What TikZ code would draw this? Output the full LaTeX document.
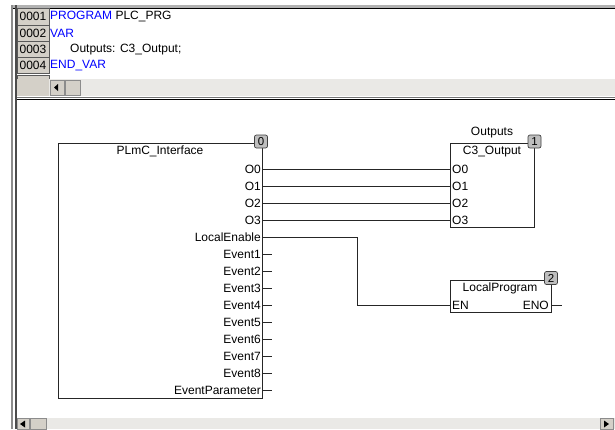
\documentclass[tikz,border=0pt]{standalone}
\usepackage{fontspec}
\setmainfont{Liberation Sans}
\definecolor{kw}{RGB}{0,0,255}
\definecolor{btn}{RGB}{212,208,200}
\definecolor{track}{RGB}{234,233,230}
\definecolor{badgefill}{RGB}{190,190,190}
\begin{document}
\begin{tikzpicture}[x=1pt,y=-1pt,font=\fontsize{12}{13}\selectfont,
  wire/.style={draw=black!85,line width=0.8pt},
  fbox/.style={draw=black!85,line width=0.8pt,fill=white,inner sep=0pt},
  portr/.style={inner sep=0pt,anchor=east},
  portl/.style={inner sep=0pt,anchor=west},
  badge/.style={draw=black!75,fill=badgefill,rounded corners=2pt,line width=0.7pt,
    minimum width=13pt,minimum height=13pt,inner sep=0pt,font=\fontsize{11.5}{12}\selectfont},
  lnum/.style={draw=black!65,fill=btn,line width=0.8pt,minimum width=32pt,minimum height=16.3pt,inner sep=0pt},
  code/.style={inner sep=0pt,anchor=west},
  sbtn/.style={draw=black!45,fill=btn,line width=0.5pt}]
\useasboundingbox (0,0) rectangle (615,429);
\fill[white] (0,0) rectangle (615,429);
% window frame
\fill[black!30] (11,5) rectangle (615,7.5);
\draw[black,line width=1pt] (11,8) -- (615,8);
\fill[black!45] (11,5) rectangle (12.5,429);
\fill[black!70] (15,5) rectangle (16.5,429);
% line numbers
\foreach \t [count=\i from 0] in {0001,0002,0003,0004} {
  \node[lnum] (ln\i) at (33,{16.8+16.3*\i}) {\t};
}
\node[lnum,minimum height=4pt,text height=0pt] (ln4) at (33,77) {};
\node[code] (c0) at (50,16.8) {\textcolor{kw}{PROGRAM} PLC\_PRG};
\node[code] (c1) at (50,33.1) {\textcolor{kw}{VAR}};
\node[code] (c2) at (70,49.4) {Outputs: C3\_Output;};
\node[code] (c3) at (50,65.7) {\textcolor{kw}{END\_VAR}};
% top scrollbar
\fill[track] (17,79) rectangle (615,96);
\fill[btn] (17,79) rectangle (49,96);
\draw[sbtn] (50,80) rectangle (64,95);
\fill[black] (54,87.5) -- (58,84) -- (58,91) -- cycle;
\draw[sbtn] (65,80) rectangle (80,95);
\fill[black!55] (17,96.5) rectangle (615,98);
\draw[black,line width=1pt] (17,99) -- (615,99);
% bottom scrollbar
\fill[track] (17,418) rectangle (615,429);
\draw[sbtn] (17,418.5) rectangle (29,429);
\fill[black] (20,424) -- (25,420.5) -- (25,427.5) -- cycle;
\draw[sbtn] (30,418.5) rectangle (46,429);
\draw[sbtn] (600,418.5) rectangle (613,429);
\fill[black] (609,424) -- (604,420.5) -- (604,427.5) -- cycle;
% PLmC_Interface block
\node[fbox,minimum width=204pt,minimum height=255pt,anchor=north west] (plc) at (58,143) {};
\node[inner sep=0pt] (plct) at (160,151.5) {PLmC\_Interface};
\node[badge] (b0) at (261,141.5) {0};
\foreach \n [count=\i from 0] in {O0,O1,O2,O3,LocalEnable,Event1,Event2,Event3,Event4,Event5,Event6,Event7,Event8,EventParameter} {
  \node[portr] (L\i) at (261,{169.5+17*\i}) {\n};
  \coordinate (P\i) at (262,{169+17*\i});
}
\foreach \i in {5,...,13} { \draw[wire] (P\i) -- ++(10,0); }
% C3_Output block
\node[fbox,minimum width=84pt,minimum height=84pt,anchor=north west] (c3o) at (450,143) {};
\node[inner sep=0pt] (outn) at (492,133) {Outputs};
\node[inner sep=0pt] (c3t) at (492,151.5) {C3\_Output};
\node[badge] (b1) at (534.5,141.5) {1};
\foreach \n [count=\i from 0] in {O0,O1,O2,O3} {
  \node[portl] (R\i) at (452,{169.5+17*\i}) {\n};
  \coordinate (Q\i) at (450,{169+17*\i});
  \draw[wire] (P\i) -- (Q\i);
}
% LocalProgram block
\node[fbox,minimum width=101pt,minimum height=32pt,anchor=north west] (lp) at (450,280) {};
\node[inner sep=0pt] (lpt) at (500,288.5) {LocalProgram};
\node[badge] (b2) at (551,278) {2};
\node[portl] (en) at (452,305.5) {EN};
\node[portr] (eno) at (549,305.5) {ENO};
\coordinate (ENin) at (450,305);
\coordinate (ENOout) at (551,305);
\draw[wire] (ENOout) -- ++(11,0);
\draw[wire] (P4) -- ++(95,0) |- (ENin);
\end{tikzpicture}
\end{document}
